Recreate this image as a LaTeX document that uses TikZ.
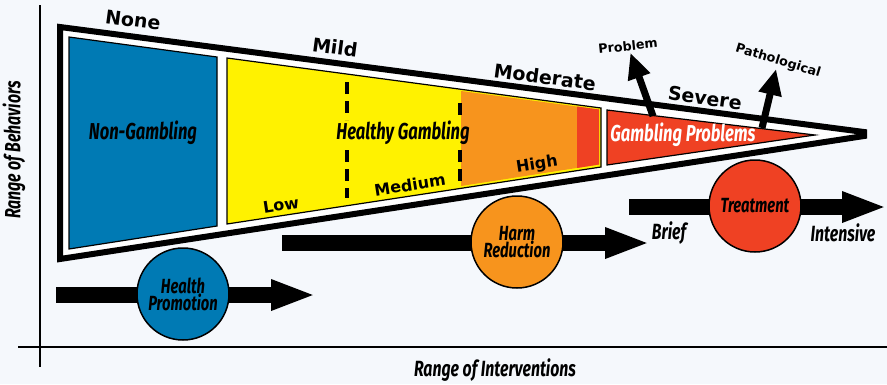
\documentclass[tikz,border=0pt]{standalone}
\usepackage{fontspec}
\usetikzlibrary{arrows.meta}
\newfontfamily\lblfont{DejaVu Sans}
\newfontfamily\condfont{Fira Sans}[FakeStretch=0.72]
\definecolor{bgcol}{RGB}{245,248,252}
\definecolor{ngblue}{RGB}{0,122,180}
\definecolor{hgyellow}{RGB}{255,242,0}
\definecolor{hiorange}{RGB}{247,148,29}
\definecolor{gpred}{RGB}{239,65,35}

\begin{document}
\begin{tikzpicture}[x=1pt, y=-1pt,
    region/.style={draw, line width=1.2pt},
    levellbl/.style={font=\lblfont\bfseries\fontsize{19}{19}\selectfont, inner sep=0pt, rotate=-7.6},
    sublbl/.style={font=\lblfont\bfseries\fontsize{16}{16}\selectfont, inner sep=0pt, rotate=8.9},
    smalllbl/.style={font=\lblfont\bfseries\fontsize{12.7}{12.7}\selectfont, inner sep=0pt, outer sep=2pt},
    zonelbl/.style={font=\condfont\bfseries\itshape\fontsize{23}{23}\selectfont, inner sep=0pt},
    intcirc/.style={circle, draw, line width=1.5pt, minimum size=92pt, inner sep=0pt, align=center,
        font=\condfont\bfseries\itshape\fontsize{20.5}{17}\selectfont},
    bigarrow/.style={line width=16pt, -{Triangle[length=45pt, width=28pt]}},
    uparrow/.style={line width=7pt, -{Triangle[length=26pt, width=22pt]}},
    dashline/.style={line width=3.5pt, dash pattern=on 12pt off 7pt},
    axislbl/.style={font=\condfont\bfseries\itshape\fontsize{22}{22}\selectfont, inner sep=0pt}]

    % background and frame
    \fill[bgcol] (0,0) rectangle (887,384);
    \useasboundingbox (0,0) rectangle (887,384);
    \draw[line width=1.3pt] (40,5) -- (40,367);
    \draw[line width=1.3pt] (18,347) -- (887,347);

    % the wedge
    \filldraw[fill=white, line width=6pt] (60,27) -- (864,132) -- (864,136) -- (60,259) -- cycle;
    \filldraw[region, fill=ngblue] (69,37) -- (217,57) -- (217,226) -- (69,249) -- cycle;
    \filldraw[region, fill=hgyellow] (227,58) -- (601,108) -- (601,167) -- (227,224) -- cycle;
    \fill[hiorange] (461,91) -- (599,109.5) -- (599,164.5) -- (461,186) -- cycle;
    \fill[gpred] (577,106.5) -- (599,109.5) -- (599,164.5) -- (577,168) -- cycle;
    \filldraw[region, fill=gpred] (607,110) -- (815,135) -- (607,165) -- cycle;
    \draw[dashline] (347,82) -- (347,120);
    \draw[dashline] (347,150) -- (347,198);
    \draw[dashline] (460,103) -- (460,122);
    \draw[dashline] (460,150) -- (460,184);

    % levels
    \node[levellbl] (none) at (133,20) {None};
    \node[levellbl] (mild) at (335,47) {Mild};
    \node[levellbl] (moderate) at (545,77) {Moderate};
    \node[levellbl] (severe) at (705,98) {Severe};
    \node[smalllbl, rotate=6] (prob) at (628,46) {Problem};
    \node[smalllbl, rotate=-17] (path) at (778,61) {Pathological};
    \coordinate (probS) at (653,116);
    \coordinate (pathS) at (762,128);
    \draw[uparrow] (probS) -- (prob);
    \draw[uparrow] (pathS) -- (path);

    % zones
    \node[zonelbl] (nongamb) at (143,133) {Non-Gambling};
    \node[zonelbl] (healthy) at (403,133) {Healthy Gambling};
    \node[zonelbl, text=white] (gprob) at (683,135) {Gambling Problems};
    \node[sublbl] (low) at (281,205) {Low};
    \node[sublbl] (medium) at (410,185) {Medium};
    \node[sublbl] (high) at (537,165) {High};

    % interventions
    \coordinate (hpS) at (56,295);
    \coordinate (hpE) at (316,295);
    \coordinate (hrS) at (282,243);
    \coordinate (hrE) at (650,243);
    \coordinate (trS) at (629,207);
    \coordinate (trE) at (887,207);
    \draw[bigarrow] (hpS) -- (hpE);
    \draw[bigarrow] (hrS) -- (hrE);
    \draw[bigarrow] (trS) -- (trE);
    \node[intcirc, fill=ngblue] (hp) at (183,294) {Health\\Promotion};
    \node[intcirc, fill=hiorange] (hr) at (517,242) {Harm\\Reduction};
    \node[intcirc, fill=gpred] (tr) at (755,206) {Treatment};
    \node[axislbl] (brief) at (669,233) {Brief};
    \node[axislbl] (intensive) at (843,233) {Intensive};

    % axis labels
    \node[axislbl, rotate=90] (behav) at (14,150) {Range of Behaviors};
    \node[axislbl] (interv) at (495,370) {Range of Interventions};
\end{tikzpicture}
\end{document}
